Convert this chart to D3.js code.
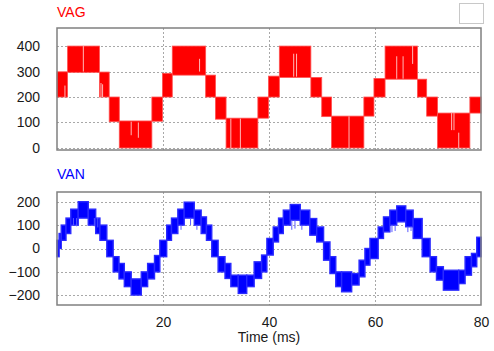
<!DOCTYPE html>
<html>
<head>
<meta charset="utf-8">
<script src="https://cdn.jsdelivr.net/npm/d3@7"></script>
<style>
  body { margin: 0; background: #fff; }
  svg { display: block; font-family: "Liberation Sans", Arial, sans-serif; }
</style>
</head>
<body>
<svg id="chart" width="494" height="351"></svg>
<script>
// tick values
const xTicks = [20, 40, 60, 80]
const vagTicks = [0, 100, 200, 300, 400]
const vanTicks = [-200, -100, 0, 100, 200]

// VAG: PWM blocks [t start (ms), t end (ms), low level (V), high level (V)]
const vagBlocks = [
  [0, 2.0, 200, 299], [2.0, 8.0, 297, 400], [8.0, 9.85, 200, 298], [9.85, 11.75, 103, 200],
  [11.75, 17.9, 0, 106], [17.9, 19.9, 105, 200], [19.9, 21.75, 200, 293], [21.75, 28.05, 286, 400],
  [28.05, 29.9, 200, 286], [29.9, 31.9, 113, 200], [31.9, 37.9, 0, 117], [37.9, 39.9, 117, 200],
  [39.9, 41.95, 200, 282], [41.95, 47.9, 277, 400], [47.9, 49.95, 200, 277], [49.95, 51.8, 123, 200],
  [51.8, 57.9, 0, 125], [57.9, 59.8, 125, 200], [59.8, 61.9, 200, 273], [61.9, 68.0, 270, 400],
  [68.0, 69.75, 200, 270], [69.75, 71.8, 125, 200], [71.8, 77.9, 0, 137], [77.9, 80, 137, 200]
]
// VAG: short off-pulses visible inside the blocks [t, low, high]
const vagGaps = [
  [1.5, 200, 245], [4.97, 300, 400], [8.3, 200, 255], [8.6, 200, 250], [14.0, 50, 103],
  [15.35, 40, 100], [26.9, 300, 350], [32.8, 0, 115], [34.6, 0, 115], [44.66, 280, 370],
  [45.2, 280, 370], [55.1, 0, 124], [64.1, 272, 360], [65.3, 272, 360], [67.1, 330, 400],
  [74.46, 70, 137], [74.9, 70, 137], [75.8, 0, 60]
]

// VAN: PWM bands [t start (ms), t end (ms), low (V), high (V)]
const vanBlocks = [
  [0, 0.4, -35, 35], [0.4, 0.8, 0, 64], [0.8, 1.7, 35, 100], [1.7, 2.6, 64, 130],
  [2.6, 4.0, 100, 168], [4.0, 5.9, 130, 200], [5.9, 7.3, 100, 168], [7.3, 8.1, 64, 130],
  [8.1, 9.4, 35, 100], [9.4, 10.6, -35, 35], [10.6, 11.7, -100, -35], [11.7, 12.7, -130, -64],
  [12.7, 14.0, -163, -100], [14.0, 15.9, -199, -130], [15.9, 17.1, -163, -100], [17.1, 18.4, -130, -64],
  [18.4, 19.4, -100, -30], [19.4, 20.7, -35, 35], [20.7, 21.6, 35, 100], [21.6, 22.8, 64, 130],
  [22.8, 24.0, 100, 168], [24.0, 25.9, 130, 198], [25.9, 27.2, 100, 164], [27.2, 28.2, 64, 135],
  [28.2, 29.2, 35, 100], [29.2, 30.4, -35, 35], [30.4, 31.7, -100, -35], [31.7, 32.8, -128, -64],
  [32.8, 34.2, -163, -114], [34.2, 35.8, -192, -114], [35.8, 37.2, -163, -114], [37.2, 38.6, -128, -57],
  [38.6, 39.6, -100, -28], [39.6, 40.8, -28, 43], [40.8, 41.8, 28, 92], [41.8, 42.7, 64, 130],
  [42.7, 44.0, 100, 164], [44.0, 45.9, 121, 188], [45.9, 47.7, 100, 164], [47.7, 49.0, 57, 128],
  [49.0, 50.3, 28, 92], [50.3, 51.5, -50, 28], [51.5, 52.6, -107, -35], [52.6, 53.7, -163, -100],
  [53.7, 55.6, -185, -100], [55.6, 57.0, -156, -107], [57.0, 58.1, -121, -50], [58.1, 59.05, -71, 0],
  [59.05, 60.6, -43, 43], [60.6, 61.6, 43, 92], [61.6, 62.8, 71, 135], [62.8, 64.1, 100, 164],
  [64.1, 65.8, 114, 182], [65.8, 67.2, 93, 164], [67.2, 68.9, 43, 128], [68.9, 70.4, -35, 43],
  [70.4, 71.6, -100, -35], [71.6, 72.9, -135, -78], [72.9, 75.8, -178, -93], [75.8, 77.0, -150, -93],
  [77.0, 78.2, -114, -35], [78.2, 79.2, -78, -21], [79.2, 80, -35, 48]
]
// VAN: thin switching spikes [t, low, high]
const vanSpikes = [
  [3.1, 100, 130], [3.7, 95, 130], [7.05, 95, 130], [7.7, 90, 130], [23.4, 80, 100],
  [25.2, 100, 130], [26.4, 80, 100], [44.3, 80, 121], [44.9, 85, 121], [46.2, 80, 100],
  [63.2, 70, 100], [63.8, 75, 100], [66.2, 70, 93], [66.8, 75, 93]
]

const svg = d3.select('#chart')
const left = 57, right = 481

const x = d3.scaleLinear().domain([0, 80]).range([left, right])
const yTop = d3.scaleLinear().domain([-8, 471]).range([150, 28])
const yBot = d3.scaleLinear().domain([-241.5, 241.5]).range([305, 192])

function panel(y, ticks, top, bottom) {
  const g = svg.append('g')
  // grid
  g.append('g')
    .selectAll('line')
    .data(ticks)
    .join('line')
    .attr('x1', left).attr('x2', right)
    .attr('y1', d => Math.round(y(d)) + 0.5).attr('y2', d => Math.round(y(d)) + 0.5)
    .attr('stroke', '#a8a8a8').attr('stroke-dasharray', '2,2')
  g.append('g')
    .selectAll('line')
    .data(xTicks.filter(d => d < 80))
    .join('line')
    .attr('x1', d => Math.round(x(d)) + 0.5).attr('x2', d => Math.round(x(d)) + 0.5)
    .attr('y1', top).attr('y2', bottom)
    .attr('stroke', '#a8a8a8').attr('stroke-dasharray', '2,2')
  // y axis labels
  const ax = g.append('g')
    .attr('transform', `translate(${left},0)`)
    .call(d3.axisLeft(y).tickValues(ticks).tickSize(0).tickPadding(17))
  ax.select('.domain').remove()
  ax.selectAll('text').attr('font-size', '14px').attr('fill', '#1a1a1a')
    .attr('font-family', '"Liberation Sans", Arial, sans-serif')
  return g
}

const gTop = panel(yTop, vagTicks, 28, 150)
const gBot = panel(yBot, vanTicks, 192, 305)

// VAG blocks
gTop.append('g')
  .attr('fill', '#ff0000')
  .attr('stroke', '#ff5050')
  .attr('stroke-width', 0.8)
  .selectAll('rect')
  .data(vagBlocks)
  .join('rect')
  .attr('x', d => x(d[0]))
  .attr('width', d => x(d[1]) - x(d[0]))
  .attr('y', d => yTop(d[3]))
  .attr('height', d => yTop(d[2]) - yTop(d[3]))
gTop.append('g')
  .attr('stroke', '#ffb8b8')
  .attr('stroke-width', 1)
  .selectAll('line')
  .data(vagGaps)
  .join('line')
  .attr('x1', d => x(d[0])).attr('x2', d => x(d[0]))
  .attr('y1', d => yTop(d[1])).attr('y2', d => yTop(d[2]))

// VAN blocks
gBot.append('g')
  .attr('fill', '#0000ff')
  .attr('stroke', '#2a2aff')
  .attr('stroke-width', 1.4)
  .selectAll('rect')
  .data(vanBlocks)
  .join('rect')
  .attr('x', d => x(d[0]))
  .attr('width', d => x(d[1]) - x(d[0]))
  .attr('y', d => yBot(d[3]))
  .attr('height', d => yBot(d[2]) - yBot(d[3]))
gBot.append('g')
  .attr('stroke', '#5a5aff')
  .attr('stroke-width', 1)
  .selectAll('line')
  .data(vanSpikes)
  .join('line')
  .attr('x1', d => x(d[0])).attr('x2', d => x(d[0]))
  .attr('y1', d => yBot(d[1])).attr('y2', d => yBot(d[2]))

// frames
svg.append('rect').attr('x', left).attr('y', 28).attr('width', right - left).attr('height', 122)
  .attr('fill', 'none').attr('stroke', '#808080').attr('stroke-width', 1.5)
svg.append('rect').attr('x', left).attr('y', 192).attr('width', right - left).attr('height', 113)
  .attr('fill', 'none').attr('stroke', '#808080').attr('stroke-width', 1.5)

// x axis
const xa = svg.append('g')
  .attr('transform', 'translate(0,305)')
  .call(d3.axisBottom(x).tickValues(xTicks).tickSize(0).tickPadding(12))
xa.select('.domain').remove()
xa.selectAll('text').attr('font-size', '14px').attr('fill', '#1a1a1a')
  .attr('font-family', '"Liberation Sans", Arial, sans-serif')

svg.append('text')
  .text('Time (ms)')
  .attr('x', (left + right) / 2).attr('y', 342)
  .attr('text-anchor', 'middle').attr('font-size', '14px').attr('fill', '#1a1a1a')

// titles
svg.append('text').text('VAG').attr('x', 57).attr('y', 17)
  .attr('font-size', '14px').attr('fill', '#ff0000')
svg.append('text').text('VAN').attr('x', 57).attr('y', 179)
  .attr('font-size', '14px').attr('fill', '#0000ff')

// legend box top right
svg.append('rect').attr('x', 459.5).attr('y', 3.5).attr('width', 24).attr('height', 20)
  .attr('fill', '#fff').attr('stroke', '#c8c8c8')
</script>
</body>
</html>
